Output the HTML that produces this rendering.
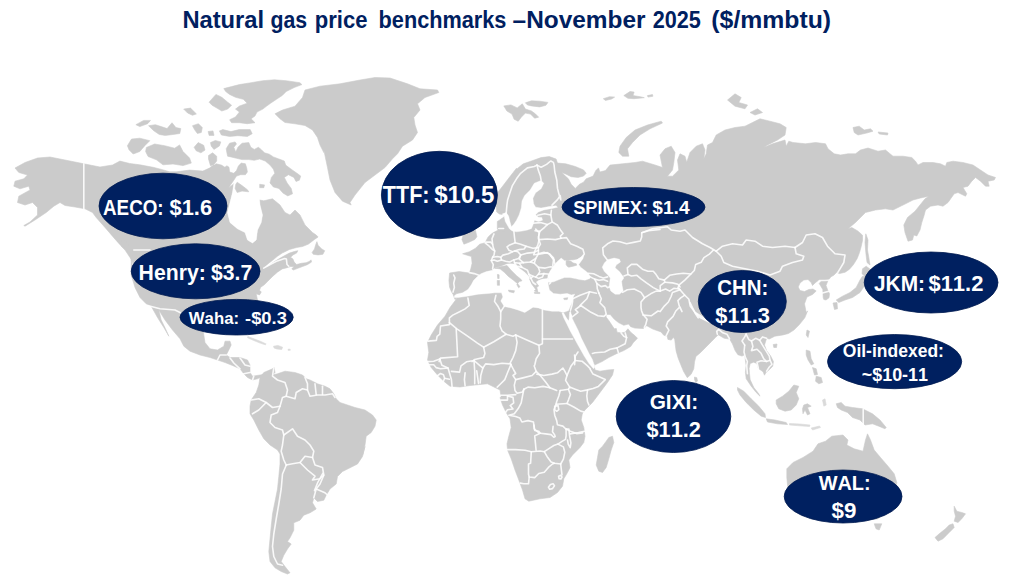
<!DOCTYPE html>
<html><head><meta charset="utf-8"><title>Natural gas price benchmarks</title>
<style>
html,body{margin:0;padding:0;background:#fff;}
body{width:1024px;height:585px;overflow:hidden;font-family:"Liberation Sans",sans-serif;}
svg{display:block;}
text{font-family:"Liberation Sans",sans-serif;font-weight:bold;font-kerning:none;}
</style></head><body>
<svg width="1024" height="585" viewBox="0 0 1024 585">
<rect width="1024" height="585" fill="#fff"/>
<text x="182.41" y="28.2" font-size="23.3" textLength="81.66" lengthAdjust="spacingAndGlyphs" fill="#002060">Natural</text><text x="270.43" y="28.2" font-size="23.3" textLength="36.64" lengthAdjust="spacingAndGlyphs" fill="#002060">gas</text><text x="314.75" y="28.2" font-size="23.3" textLength="52.71" lengthAdjust="spacingAndGlyphs" fill="#002060">price</text><text x="378.57" y="28.2" font-size="23.3" textLength="127.82" lengthAdjust="spacingAndGlyphs" fill="#002060">benchmarks</text><text x="512.56" y="28.2" font-size="23.3" textLength="133.01" lengthAdjust="spacingAndGlyphs" fill="#002060">–November</text><text x="652.75" y="28.2" font-size="23.3" textLength="48.15" lengthAdjust="spacingAndGlyphs" fill="#002060">2025</text><text x="711.37" y="28.2" font-size="23.3" textLength="119.77" lengthAdjust="spacingAndGlyphs" fill="#002060">($/mmbtu)</text>
<defs><filter id="soft" x="-2%" y="-2%" width="104%" height="104%"><feGaussianBlur stdDeviation="0.45"/></filter></defs>
<g filter="url(#soft)">
<g fill="#cbcbcb" stroke="#cbcbcb" stroke-width="0.6" stroke-linejoin="round">
<path d="M15,168 25,162.5 37.5,158 50,157 65,160 83.8,163.8 100,167 112.5,165 119.9,161.1 129.8,163.5 139.8,164.8 153.1,167.3 161.4,169.4 169.7,171.8 176.3,171.8 189.6,170.1 202.9,171.1 209.5,168.1 213.7,164.8 218.7,167.3 210.5,170.6 212.6,166.5 216,163.8 221.4,165.1 224.9,167.2 226.9,165.8 229,167.2 229.6,172 233.8,173.3 236.5,170.6 238.5,165.8 241.3,163.1 245.4,163.8 246.7,167.9 247.4,172 245.4,174.7 240.6,174.7 236.5,176.1 233.8,180.2 231,184.3 228.3,188.4 224.9,191.1 233.8,183.8 232.5,192.5 230,202.5 227.5,212.5 230,222.5 237.5,228.8 245,232.5 247.5,240 252.5,243 256.2,240 257.5,230 261.2,222.5 262.5,215 260,205 259.5,200 263.8,200.8 272.5,198.8 280,205 285,212.5 290,215 295,210 300,215 305,225 312.5,232.5 316.2,235 318.1,237 314.5,239.4 308.5,244.1 302.5,246.5 296.6,247.5 289.4,249.5 282.2,253.1 277.4,256.3 272.6,260.3 267.8,263.9 263.7,268.1 267.8,266.3 273.8,262.1 278.6,259.1 283.4,256.3 289.4,253.1 294.2,251.6 297.8,250.7 296.6,253.1 293,254.9 290.6,257.3 293,259.1 294.2,262.1 296.6,264.5 301.3,263.3 306.1,262.7 309.1,261.5 311.1,259.9 311.5,262.1 307.3,264.7 302.5,266.5 297.8,268.3 293.2,270.1 291.8,268.7 294.2,266.5 290.6,266.5 287,267.7 282.2,268.9 277.4,272.2 272.6,276.4 267.8,281.2 264.3,284.8 260.7,287.2 259.5,290.2 261.3,292 259.5,294.9 256.2,293.8 257.5,300 261.2,308.8 263.8,317.5 265,325 263.8,331.2 261.2,332.5 257.5,325 253.8,316.2 250,308.8 242.5,306.2 235,306.2 227.5,308.8 220,307.5 212.5,308.8 207.5,312.5 203.8,320 203,327.5 203.8,335 205,342.5 210,348.8 217.5,350 223.8,346.2 225,341.2 230,341.2 231.2,345 228.8,350 226.2,355 230,357.5 240,357.5 247.5,360 250,365 250,372.5 252.5,376.2 260,375 267.5,373.8 272.5,375 275,378.8 272.5,382.5 270,381.2 267.5,377.5 262.5,376.2 257.5,378.8 252.5,380 247.5,377.5 243.8,373.8 240,368.8 232.5,365.5 225,362.5 217.5,360 210,357.5 200,355 190,351.2 183.8,346.2 180,338.8 172.5,330 165,320 158.8,310 161.2,320 165.5,328.8 168.8,336.2 167.5,333.8 163.8,327.5 157.5,317.5 151.2,306.2 146.2,303.8 140,297.5 135,287.5 131.2,275 131.2,260 135,275 133.8,265 130,257.5 125,250 120,245 112.5,236.2 105,227.5 96.2,217.5 92.5,212.5 85,208.8 75,207 65,205.5 60,202.5 53.8,206.2 46.2,212.5 35,220 25,226.2 23.8,225.5 30,222 37.5,215 37.5,207.5 32.5,202.5 25,205 17.5,202.5 18.8,196.2 30,190 28.8,186.2 20,188.8 13.8,186.2 15,181.2 23.8,178.8 27.5,175 18.8,172.5Z"/>
<path d="M226.9,152.8 226.2,148.7 229.6,143.2 235.1,141.9 236.5,143.9 233.8,147.3 235.8,152.1 237.9,147.3 242,143.2 248.8,142.6 250.8,147.3 254.3,149.4 258.4,147.3 261.1,149.4 264.5,152.8 269.3,154.2 273.4,156.9 278.9,159 284.3,161 285.7,165.1 291.2,169.2 298,174 300.7,176.1 299.4,180.2 296,181.5 293.9,177.4 288.4,174.7 284.3,177.4 287.1,182.9 291.2,188.4 292.5,193.8 287.8,195.9 283,193.1 278.9,188.4 273.4,187 270,182.9 271.4,177.4 274.8,173.3 273.4,169.2 270,165.1 265.2,161 259.7,159 254.3,160.3 248.8,159.6 242,159.6 236.5,158.3 231,156.9 227.6,156.2Z"/>
<path d="M219.4,130.9 222.8,129.6 231,131.6 239.2,129.6 250.2,129.6 252.2,133.7 247.4,136.4 237.9,135.7 229.6,136.4 221.4,135Z"/>
<path d="M210.5,142.6 215.3,140.5 220.8,141.9 219.4,146 213.9,149.4 211.2,146Z"/>
<path d="M194.1,147.3 198.2,142.6 203.7,145.3 205,150.1 200.9,152.8 196.2,150.8Z"/>
<path d="M208.5,155.5 212.6,152.8 216.7,156.2 216.7,161 213.9,164.4 210.5,165.8 208.5,159Z"/>
<path d="M127.4,145.7 131.5,139.1 139.8,138.2 149.8,140.7 144.8,145.7 139.8,151.5 133.2,154 129,149.8Z"/>
<path d="M146.4,147.4 154.7,144 164.7,145.7 174.7,148.2 179.6,144.9 183,151.5 189.6,158.1 191.3,163.1 183,165.6 173,164 163,164.8 156.4,159.8 148.1,156.5 145.6,151.5Z"/>
<path d="M275,113.8 282.5,110 295,106.2 302.5,97.5 305,90 320,86.2 340,83.8 360,80 375,77.5 390,78 407.5,83.8 420,88.8 437.5,90 438.8,92.5 425,97.5 417.5,103.8 420,110 413.8,117.5 415,125 417.5,132.5 412.5,140 402.5,146.2 397.5,153.8 392.5,158.8 385,167.5 375,175 365,182.5 355,195 350,202.5 351.2,205 342.5,201.2 335,192.5 330,180 327.5,167.5 323.8,150 323.8,152.5 320,145 317.5,137.5 312.5,130 305,125.5 295,123.8 285,122.5 280,118.8Z"/>
<path d="M260,377.5 263.8,372.5 272.5,368.8 274,367 275,372.5 272.5,375 277.5,373.8 285,371.2 295,372.5 302.5,375 306.2,378.8 310,380 317.5,383.8 325,386.2 330,388.8 333.8,393.8 336.2,398.8 340,402.5 347.5,405 355,407.5 365,410 372.5,415 376.2,420 375,426.2 371.2,432.5 366.2,436.2 365,445 362.5,455 365,446.5 362.5,456.5 357.5,464 350,467.8 342.5,471.5 337.5,476.5 336.2,484 330,489 326.2,495.2 323.8,500.2 317.5,501.5 313.8,497.8 312.5,502.8 316.2,509 310,512.8 303.8,515.2 300,520.2 293.8,522.8 293.8,530.2 290,537.8 287.5,541.5 291.2,544 287.5,549 283.8,555.2 281.2,561.5 285,566.5 290,572.8 287.5,574 281.2,571.5 275,567.8 270,561.5 268.8,551.5 270,539 271.2,526.5 272.5,514 275,501.5 277.5,489 278.8,476.5 280,464 280,454 277.5,450 270,445 263.8,438.8 258.8,430 253.8,420 250,413.8 250,406.2 251.2,400 256.2,392.5 258.8,385Z"/>
<path d="M455,299.6 453,294.2 451.6,292.1 449.6,287.3 448.9,280.5 449.6,273 459.1,271.6 469.4,273 470.8,268.8 472.1,263.3 471.4,256.5 462.6,253.8 469.4,251.7 475.5,248.3 479.6,244.2 485.1,242.8 487.9,237.3 490.6,234.6 493.3,232.6 497.4,230.5 498.8,227.8 500.2,219.6 504.3,216.8 504.2,214.7 499.4,214 496.7,212 496,205.1 496.3,198.3 498,192.1 502.8,186 509.6,177.1 516.5,168.2 516.5,169.2 523.3,163.8 531.5,161 541.1,157.6 549.3,156.6 556.1,159 557.5,163.1 565.7,163.8 575.3,166.5 583.5,169.9 586.2,173.3 583.5,176.1 578,177.4 571.2,176.7 565.7,174 561.6,172.6 568.4,178.8 571.2,184.3 575.3,188.4 579.4,184.3 583.5,182.2 586.2,178.8 593.1,176.1 595.8,170.6 598.5,167.9 599.9,172 605.4,170.6 610,165.1 622.5,163.8 635,162.5 642.5,161.2 655,165 662.5,167.5 660,155 665,148.8 671.2,146.2 675,152.5 673.8,162.5 672.5,170 667.5,176.2 672.5,176.2 678.8,170 677.5,160 680,153.8 685,156.2 687.5,165 690,170 686.2,163.8 690,152.5 696.2,146.2 702.5,143.8 705,150 703.8,158.8 706.2,153.8 707.5,145 712.5,142.5 716.2,135 725,130 735,127.5 745,126.2 752.5,122.5 760,118.8 770,121.2 780,123.8 786.2,127.5 785,135 777.5,140 767.5,145 763.8,147.5 772.5,143.8 785,140 786.2,146.2 788.8,141.2 793,142.5 805.5,143.8 815.5,142.5 825.5,143.8 828,148.8 834.2,153.8 840.5,155 848,153.8 855.5,153.8 860.5,150 868,148 878,151.2 885.5,150 893,156.2 903,156.2 911.8,157.5 915.5,161.2 918,165 923,162.5 933,162.5 940.5,163.8 945.5,166.2 946.8,162.5 953,161.2 963,162.5 973,165 980.5,170 988,175 995.5,177.5 994.2,180 988,181.2 989.2,186.2 985.5,186.2 980.5,181.2 975.5,177.5 971.8,181.2 968,186.2 963,187.5 966.8,193.8 965.5,196.2 958,192.5 954.2,193.8 948,202.5 943,206.2 938,205 930.5,206.2 925.5,210 924.2,215 921.8,222.5 920,230 916.8,236 913.8,235 912.5,240 908,241.2 905,232.5 903.8,225 907.5,217.5 915,211.2 920,205 925,198.8 928.8,196.2 920.5,198 913,200 905.5,203.8 898,207.5 893,210 885.5,208.8 875.5,210 865.5,212.5 855.5,222.5 848,228.8 848,228.8 851.8,227.5 857.8,231 862.5,235.2 862.5,240.5 861.2,246.5 859.5,252.5 857.2,258.5 853.5,264.5 849.5,269.2 845.2,272.2 839.8,273.5 836.2,272.8 833.8,275.2 831,276.8 828,280.5 826,285.5 827.5,289.5 829.5,293.8 829,297.8 826,300 823.8,299.5 823.2,297.8 822.8,289.5 819.2,283.5 821.8,280.5 818.8,280 815,283 812.5,285.5 811.2,282.5 808,279.5 803.8,280 800,283 798.2,287 800,290.5 804.5,291.5 808.8,289.5 813,289 816.2,291 812.5,294.5 807,297 804.5,303.8 806.2,312.5 807.6,310.9 804.8,317.8 799.4,324.6 793.9,330.1 788.4,333.5 783,334.9 774.8,336.2 769.3,339 766.6,338.3 764.5,345.1 766.6,350.6 770.7,356.1 773.4,361.5 772.7,366.3 769.3,369.7 765.9,372.5 764.5,375.2 763.1,371.8 758.4,368.4 757,363.6 753.6,362.2 750.2,363.6 749.1,368.4 749.5,373.8 750.2,379.8 753.8,387.5 758.8,393.8 760,396.2 756.2,392.5 751.2,386.2 746.2,378.8 745.4,372.5 746.1,365.6 745.4,360.2 744.7,354.7 742,356.1 737.9,354.7 735.1,350.6 732.4,343.8 729.6,339 724.2,338.3 717.3,334.2 717.8,335.3 715.7,337.3 711.6,341.4 706.1,346.9 700.7,352.4 695.9,356.5 694.5,362 693.8,368.8 691.1,374.3 687.3,377.7 683.6,371.5 680.8,364.7 678.1,357.9 676.1,351 675.4,345.5 674.7,339.4 673.3,337.3 671.3,340.1 667.9,339.4 667.2,336 663.8,335.3 661,331.9 652.8,329.1 646.7,325.7 646,326.4 643.2,328.5 634.8,328.1 630.7,326.7 628.6,324 623.8,325.3 618.4,322.6 614.3,319.2 610.2,314.4 606.1,314.4 606.1,317.1 608.8,320.5 611.5,324.6 614.3,328.8 616.3,328.5 617,332.2 621.1,332.9 625.2,332.2 627.9,328.8 630.7,332.2 634.8,335.6 637.5,338.3 633.4,342.4 630.7,346.5 623.8,350.6 617,353.4 608.8,357.5 602,361.6 595.1,364.8 593.8,363.8 594.5,367.5 595,370 600,371.2 607.5,370 613.8,369.5 612.5,375 607.5,382.5 600,392.5 592.5,402.5 585,410 580,416 592.5,397.5 587.5,405 582.5,412.5 581.2,420 583.8,427.5 585,436.2 583.8,442.5 580,447.5 572.5,455 568.8,460 570,467.5 567.5,472.5 563.8,478.8 562.5,486.2 557.5,492.5 550,497.5 540,498.8 528.8,501.2 525,498.8 522.5,490 518.8,480 515,470 511.2,458.8 507.5,450 507,443.8 508.8,436.2 511.2,427.5 510,418.8 506.2,412.5 502.5,405 500,397.5 501.2,397.5 500,390 495,387.5 487.5,383.8 480,384.5 470,385.5 460,387 450,386.2 443.8,381.2 437.5,375 431.2,367.5 427.5,360 428.8,352.5 427.5,342.5 431.2,335 437.5,325 445,316.2 450,307.5 457.5,297.5Z"/>
<path d="M223.8,88.6 231.6,86.6 239.4,84.6 251.1,82.7 262.8,80.7 274.5,79.8 286.2,80.7 299.9,82.7 301.9,84.6 294.1,87.6 286.2,91.5 282.3,95.4 276.5,99.3 270.6,103.2 266.7,106.1 262.8,109.1 257,112 255,115.9 251.1,118.8 255,122.7 247.2,123.7 239.4,122.7 231.6,122.7 229.6,119.8 235.5,116.9 239.4,112 235.5,109.1 239.4,106.1 247.2,103.2 243.3,99.3 235.5,97.3 229.6,94.4 225.7,91.5Z"/>
<path d="M209.1,102.2 215.9,94.4 221.8,97.3 227.7,102.2 231.6,105.2 227.7,109.1 221.8,111 216.9,108.1 212,105.2Z"/>
<path d="M148.6,125.7 155.4,124.7 161.2,126.6 167.1,128.6 172,122.7 175.9,127.6 180.8,128.6 179.8,133.5 173,134.5 165.2,135.4 159.3,134.5 153.4,130.5Z"/>
<path d="M135.9,124.7 143.7,120.4 150.5,120.4 147.6,123.7 139.8,126.6Z"/>
<path d="M183.7,109.1 190.5,108.1 196.4,113.9 192.5,115.3 187.6,113Z"/>
<path d="M192.5,125.7 198.4,123.7 202.3,127.6 201.3,132.5 197.4,133.5 194.5,129.6Z"/>
<path d="M208.1,131.5 213,130.9 214,135.4 209.1,135.4Z"/>
</g>
<g fill="#fff" stroke="#fff" stroke-width="0.4" stroke-linejoin="round">
<path d="M454.4,295.8 456.4,294.2 462.6,292.8 468,289.4 471.4,284.6 473.5,280.5 476.9,277.1 481,273.7 486.5,271.6 492.6,270.3 494.7,268.2 500.2,266.8 507,264.1 510.4,263.8 514.5,264.1 519.3,268.2 524.8,272.3 528.9,276.4 530.2,280.5 531.6,283.9 535.7,282.6 538.4,280.5 542.5,279.1 548,278.5 549.4,279.8 548,283.2 549.4,290.1 553.5,293.5 560.3,294.2 567.2,293.5 571.3,294.9 574.7,294.2 573.3,296.9 571.9,302.4 569.9,307.2 568.5,310.6 563.1,312.6 558.9,311.3 552.1,311.3 543.9,309.9 538.4,307.9 533,307.2 528.9,309.9 524.8,312.6 517.9,309.9 511.1,307.9 504.3,306.5 500.8,301 502.9,296.9 501.5,292.8 494.7,292.8 487.9,293.5 478.3,294.2 467.3,296.2 457.8,297.6 454.4,297.6Z"/>
<path d="M562,313 563.7,317.8 567.1,324.6 570.5,331.5 573.9,337.6 577.3,343.8 580.8,349.9 584.2,356.1 589,363.6 593.5,368.7 594.8,367 592.4,359.5 589,353.4 584.9,345.2 581.4,338.3 578,330.1 574.6,323.3 571.9,317.8 570.5,311 569.6,312.3 569.1,319.2 568.5,320.8 566.4,317.8 563.7,313Z"/>
<path d="M548.9,279.1 547.8,275.9 549.9,271.6 553.2,266.2 556.9,261.9 561.2,258.1 564.5,260.8 567.7,260.6 573.1,260.2 577.4,259.5 581.7,257 583.9,254.8 583,258.6 580.6,261.9 578.7,264.5 580.6,267.2 585,270.5 588.2,273.2 590.3,276.4 589.8,278.6 585,280.2 579.6,279.6 575.3,278.6 569.9,277.5 564.5,277.5 559.1,279.6 553.7,281.8 549.4,282.3 547.8,281.2Z"/>
<path d="M607.6,259.7 614.1,258.1 619.4,259.2 620.5,261.9 616.2,265.1 615.1,267.8 619.4,271.6 622.7,275.9 623.8,278 621.6,281.2 622.1,285.6 623.2,290.9 619.4,294.2 615.1,294.2 610.8,290.9 609.2,286.6 609.7,282.3 610.3,278 607.6,274.8 604.4,271.6 602.2,267.2 604.4,262.9Z"/>
<path d="M541.1,180.5 543.8,183.2 541.1,188.7 535.6,192.8 532.9,198.3 533.6,203.8 535.6,207.2 541.1,208.1 549.3,206.5 556.1,205.8 557.5,207.2 552,208.5 543.8,209.9 538.4,212 535.6,214.7 538.4,217.2 541.8,217.4 542.5,220.2 538.4,221.5 534.5,220.2 533.2,224.3 531.5,228.4 527.4,230 522,231.1 516.5,231.8 512.4,231.1 509.6,229 507.6,225.6 505.3,221.5 504.2,216.1 502.1,214 506.2,212.6 508.6,216.1 509.9,221.5 511.4,226.7 513.8,224.3 516.5,220.2 519.2,214.7 521.3,207.9 522,201 524.7,195.5 530.2,190.1 534.3,183.2Z"/>
<path d="M233.8,183.8 245,185.5 255,192.5 259.5,200 260,205 262.5,215 261.2,222.5 257.5,230 256.2,240 252.5,243 247.5,240 245,232.5 237.5,228.8 230,222.5 227.5,212.5 230,202.5 232.5,192.5Z"/>
</g>
<g fill="#cbcbcb" stroke="#cbcbcb" stroke-width="0.6" stroke-linejoin="round">
<path d="M235.8,184.3 237.2,182.2 242,185.6 247.4,189.7 248.8,191.8 242,191.1 237.2,192.5 235.1,188.4Z"/>
<path d="M259.7,184.3 264.5,184.9 263.8,187.7 259.7,187.7Z"/>
<path d="M494.7,268.2 500.2,268.9 504.3,272.3 508.4,276.4 513.8,280.5 517.9,283.9 520,286.7 518.6,287.8 516.8,284.6 519.3,281.6 522,280.8 520.7,279.1 516.6,275.7 511.1,270.3 507,265.5 500.2,266.8Z"/>
<path d="M529.6,279.1 535.7,281.9 538.7,286 536.8,287.3 537.9,292.3 534.3,290.9 535.7,289.4 531.9,284.3Z"/>
<path d="M508.4,290.1 514.5,290.8 513.8,292.8 509,291.7Z"/>
<path d="M497.2,280.5 499.5,280.5 499.5,285.3 497.4,285.3Z"/>
<path d="M497.4,274.4 499.1,274.8 499.1,278.5 497.7,278.5Z"/>
<path d="M534.3,292.3 539.8,292.5 539.8,293.6 534.6,293.4Z"/>
<path d="M563.7,298.3 567.8,297.7 567.2,299.6 564.1,299.6Z"/>
<path d="M461.9,239.4 464.6,230.5 471.4,226.4 475.5,230.5 476.9,236.7 474.9,239.4 469.4,242.1 463.9,244.2Z"/>
<path d="M497.3,221.5 499.4,220.2 503.5,220.8 504.2,225.6 505.8,228.4 509,229.7 506.9,231.8 502.8,231.1 499.4,231.1 497.3,228.4Z"/>
<path d="M608.8,437.5 612.5,436.2 613.8,442.5 611.2,450 608.8,458.8 606.2,467.5 602.5,472.5 598.8,471.2 596.2,465 597.5,457.5 598.8,450 602.5,446.2 606.2,441.2Z"/>
<path d="M694.5,377 696.8,377.7 697.5,381.1 695.9,382.5 694.5,379.7Z"/>
<path d="M865.8,233.8 868,240 867.5,250 868.8,257.5 870,265 867,262.5 865.8,252.5 865,242.5Z"/>
<path d="M862.5,268.8 866.2,266.2 871.2,270 868.8,273.8 865,276.2 862,273.8Z"/>
<path d="M866.2,276.2 865,285 860,292.5 852.5,297.5 845,300 838.8,302.5 836.2,300 842.5,296.2 850,292.5 856.2,287.5 860,280 862.5,276.2Z"/>
<path d="M833,303 837,302.5 837.5,308.8 834.5,309.5Z"/>
<path d="M807,330 809.5,331.2 808,337.5 806.2,335Z"/>
<path d="M773.2,344.5 777,344 776.5,347.5 773.8,347.5Z"/>
<path d="M737.5,387.5 743.8,391.2 751.2,398.8 758.8,406.2 765,413.8 765.5,417.5 761.2,416.2 753.8,410 746.2,402.5 740,395 737.5,390Z"/>
<path d="M766.2,418.8 775,420 786.2,422.5 787.5,424.5 777.5,423.8 767.5,422Z"/>
<path d="M776.2,400 782.5,396.2 788.8,391.2 793.8,385 798.8,386.2 796.2,392.5 798.8,398.8 796.2,405 791.2,410 785,411.2 778.8,408.8 776.2,403.8Z"/>
<path d="M803.8,405 807.5,403.8 811.2,406.2 807.5,407.5 810,413.8 807.5,415 805,410 803,413.8 802.5,408.8Z"/>
<path d="M806.2,350 810,351.2 811.2,358.8 813.8,363.8 811.2,365 808,360 806.2,355Z"/>
<path d="M816.2,376.2 821.2,377.5 822.5,382.5 818.8,383.8 815.5,381.2Z"/>
<path d="M812.5,367.5 816.2,368.8 817.5,374.5 814.5,375Z"/>
<path d="M836.2,403.8 841.2,402.5 845,406.2 852.5,407.5 862.5,408.8 872.5,413.8 880,420 886.2,427.5 885,428.8 878.8,426.2 872.5,423.8 865,425 860,420 852.5,417.5 847.5,412.5 841.2,410 837.5,407.5Z"/>
<path d="M786.8,468.8 793,462.5 803,457.5 813,451.2 818,443.8 825.5,441.2 831.8,436.2 843,435 848,440 846.8,445 854.2,448.8 863,451.2 865.5,440 867.5,433.8 870.5,440 874.2,450 880.5,457.5 888,466.2 894.2,473.8 896.8,482.5 895.5,492.5 891.8,502.5 885.5,512.5 878,518.8 868,520 860.5,516.2 853,512.5 843,507.5 830.5,505 818,507.5 805.5,511.2 795.5,510 789.2,502.5 788,490 786.8,477.5Z"/>
<path d="M874.2,523.8 881.8,523.8 879.2,530 876,528.8Z"/>
<path d="M954.2,506.2 956.8,511.2 961.8,512.5 965.5,513.8 961.8,518.8 958,522.5 954.2,521.2 955.5,516.2 954.2,511.2Z"/>
<path d="M953,523.8 954.2,527.5 949.2,532.5 943,538.8 938,541.2 935,537.5 939.2,533.8 945.5,528.8 949.2,525Z"/>
<path d="M247.8,336.6 254.6,339 261.4,341.7 266.2,344 265.3,344.8 260.1,343.1 253.2,340.3 247.5,337.7Z" fill="#dadada" stroke="#dadada"/>
<path d="M273.5,346.2 277.9,345.4 282.6,347.2 281.7,349.5 276.5,348.9 274,347.9Z" fill="#dadada" stroke="#dadada"/>
<path d="M288.1,349.2 290.2,349.2 290.2,350.3 288.1,350.3Z" fill="#dadada" stroke="#dadada"/>
<path d="M618.8,152.5 620,146.2 626.2,137.5 635,130 647.5,125 661.2,121.2 662.5,123 650,128.8 640,135 632.5,142.5 627.5,148.8 628.8,156.2 622.5,156.2Z"/>
<path d="M727.5,100 735,93.8 741.2,97.5 738.8,102.5 747.5,105 745,108.8 735,106.2Z"/>
<path d="M750,112.5 757.5,108.8 762.5,112.5 755,115Z"/>
<path d="M853,127.5 859.2,126.2 864.2,130 870.5,128.8 873,131.2 866.8,133 858,135 854.2,132.5Z"/>
<path d="M878,132 888,133 887.5,135 879.2,134Z"/>
<path d="M316.9,241.7 318.1,245.3 321.7,248.9 324.7,250.7 322.9,254.3 318.1,254.9 313.3,254.3 312.1,252.5 314.5,248.9 315.7,244.7Z"/>
<path d="M503.8,105.9 511,104.9 517.2,107.9 522.3,103.8 525.4,109 531.5,111 535.6,114.1 538.7,117.2 534.6,118.2 530.5,114.1 525.4,113.1 521.3,117.2 518.2,121.3 514.1,119.2 512,114.1 506.9,111Z"/>
<path d="M525.4,102.8 531.5,100.8 539.7,101.2 547.9,102.4 545.9,105.3 539.7,106.9 531.5,105.9 527.4,104.9Z"/>
<path d="M603.3,98.7 609.5,96.7 614.6,97.1 611.5,99.1 605.4,100.4Z"/>
<path d="M623.8,95.6 630,91.5 634.1,92.1 633,95.6 640.2,96.7 644.3,97.7 634.1,98.7 627.9,98.3Z"/>
<path d="M647.4,95.6 652.5,94.6 652.9,96.3 648,97.1Z"/>
<path d="M120.2,237.3 126.2,241.6 132.1,250.6 134.5,255.9 129.5,253.9 123.5,245.9Z"/>
<path d="M566.1,260.8 567.7,260.2 570.9,261.3 573.1,262.9 576.3,263.8 576.6,265.3 573.1,266.2 568.8,267.2 567.2,266.2 566.1,264.5Z"/>
<path d="M789.5,423.5 800,424 810,425 809.5,426.5 799.5,425.8 789.5,425Z" fill="#dadada" stroke="#dadada"/>
<path d="M811.2,428 819.5,426 820.5,427.5 812.5,430Z" fill="#dadada" stroke="#dadada"/>
<path d="M822.5,400 825,398.8 826.2,405 823.8,406.2Z" fill="#dadada" stroke="#dadada"/>
</g>
<g fill="none" stroke="#fff" stroke-opacity="0.88" stroke-width="1.6" stroke-linejoin="round" stroke-linecap="round">
<path d="M467.9,298 469.2,305.5 465.1,308.9 459.6,311.7 452.8,315.1 449.4,317.8 449.4,324.6 440.5,326 439.8,334.2 437.1,336.3 436.4,340.4 428.2,341.1"/>
<path d="M449.4,322.6 456.9,328.8 467.9,336.3 477.4,343.1 483.6,347.2 493.8,341.7 506.1,334.2"/>
<path d="M456.2,328.8 456.9,342.4 457.6,356.8 440.5,358.1 439.1,361.6"/>
<path d="M495.9,295.3 494.5,301.4 497.9,306.2 500.7,311.7 503.4,307.6 504.8,305.5"/>
<path d="M500.7,311.7 500.7,319.2 500,326 502,330.8 506.1,334.2 513,336.3 515.7,334.9 528,340.4 538.9,345.2 542.4,343.8 542.4,309.6"/>
<path d="M542.4,339 572.6,339"/>
<path d="M515.7,334.9 517.1,342.4 515.7,350.6 513,357.5 510.2,362.9 510.5,363.2 510.9,364.6"/>
<path d="M483.6,347.2 484.9,353.4 483.6,357.5 474.7,359.5 472,361.6 474,360.5 466.5,361.8 461,365.9 459.6,372.1 451.4,371.4"/>
<path d="M538.9,345.2 539.6,353.4 536.2,358.8 534.8,364.8 534.2,365.9 536.2,371.4"/>
<path d="M439.8,359.1 441.9,365.3 448,368 449.4,372.8 451.4,379.6 452.1,387.1"/>
<path d="M465.1,372.8 464.4,379.6 465.1,385.8"/>
<path d="M474,360.5 474.7,370.7 474.7,383.7"/>
<path d="M476.7,370.7 478.5,383.4"/>
<path d="M474,360.5 480.2,365.9 482.9,368 480.8,375.5 480.2,383"/>
<path d="M482.9,368 485.6,363.9 493.8,364.6 502,363.2 510.2,363.9"/>
<path d="M510.9,364.6 507.5,372.8 504.8,379.6 500.7,383.7 497.2,387.1"/>
<path d="M510.9,364.6 513.7,370 515.7,373.5 513,375.5 515.7,379.6 514.3,385.1 515,390.5 517.1,393.3 522.5,391.9 523.9,389.2"/>
<path d="M500.7,395.3 507.5,395.3 515.7,394.6"/>
<path d="M500.7,400.1 507.5,400.1 507.5,396"/>
<path d="M507.5,396 513,397.4 513.7,402.9 510.2,405.6 513,409 507.5,409.7 505.5,412.4"/>
<path d="M515.7,379.6 523.9,377.6 532.1,375.5 536.2,371.4 540.3,375.5 545.8,382.3 549.9,387.8"/>
<path d="M523.9,389.2 528,387.1 534.8,387.8 543.1,386.4 549.9,387.8 556.7,390.5"/>
<path d="M523.9,389.2 522.5,396 521.2,402.9 518.4,408.3 514.3,413.8 508.9,415.2 515.7,416.5 519.8,417.9 521.9,422 528,420.6 533.5,422 534.2,428.8 538.9,432.9"/>
<path d="M536.9,374.1 543.8,375.5 552,374.1 557.4,372.8 562.9,368 564.9,371.4 567,375.5"/>
<path d="M574.5,355 575.2,360.5 571.1,365.9 567,375.5 565.6,380.3 569.7,387.1"/>
<path d="M575.2,360.5 582,361.2 587.5,365.9 590.2,368.7"/>
<path d="M590.2,369.4 593,374.1 605.3,379.6 598.4,386.4 593,388.5 587.5,389.9 580.7,391.2 575.2,389.2 569.7,387.1 568.4,389.2 560.2,390.5"/>
<path d="M587.5,389.9 586.8,396 587.5,401.5 588.9,404.9"/>
<path d="M568.4,389.2 570.4,394.6 568.4,400.1 567,403.5 573.8,407 580.7,411.1 583.4,411.7"/>
<path d="M560.2,390.5 558.8,396 556.7,401.5 556.1,404.2 567,403.5"/>
<path d="M556.1,404.2 554,409.7 554.7,415.2 556.7,420.6 557.4,424.7 562.9,426.1 565.6,428.8 571.1,431.6 576.6,433.6 582.7,432.9"/>
<path d="M534,425 534.7,430.5 538.8,431.2 540.2,433.2 534.7,435.9 535.4,442.8 536.1,450.3"/>
<path d="M506.7,449.6 515.5,449.6 525.1,450.3 531.3,451.7 540.2,451 544.3,451.7 549.7,448.2 553.8,445.5 557.9,444.1 562,441.4 565.5,439.4 566.1,435.9 566.1,429.1"/>
<path d="M540.2,433.2 545.6,433.9 551.1,434.6 553.8,437.3 555.2,436.6 554.5,434.6 552.5,431.8 553.1,426.4"/>
<path d="M566.1,429.1 568.9,429.1 569.6,435.9 570.9,442.8 570.2,447.6 568.2,444.1 567.5,440"/>
<path d="M570.2,433.9 578.4,432.5 584.6,431.2"/>
<path d="M531.3,451.7 530.6,463.3 528.5,464 528.5,474.2 529.2,477 534.7,477.6 538.8,473.5 544.3,472.2 548.4,467.4 552.5,464 554.5,463.3"/>
<path d="M544.3,451.7 547,456.4 551.1,461.9 554.5,463.3 560.7,464 563.4,459.2 564.8,452.3 563.4,446.9 557.9,444.1"/>
<path d="M560.7,464 561.4,470.1 562,474.9"/>
<path d="M529.2,477 528.5,483.8 523.8,483.8 520.3,483.1"/>
<path d="M558.6,476.3 560.7,475.3 562,477 560.9,479 559,478.6 558.6,476.3"/>
<path d="M548.4,487.2 550.4,484.5 553.1,483.8 554.5,485.8 552.5,488.6 549.7,489.3 548.4,487.2"/>
<path d="M554.7,406.3 558.1,405.6 558.8,409.7 556.7,411.3 554.7,409.7 554.7,406.3"/>
<path d="M572.6,298.7 580.1,295.3 589.6,291.8 596.5,293.2"/>
<path d="M589.6,291.8 586.9,298.7 581.4,304.1 580.1,305.5"/>
<path d="M570.5,314.4 571.9,317.1 578,312.3 575.3,309.6 580.8,305.5 591,312.3 597.9,315.8 604,316.4 606.1,314.4"/>
<path d="M598.9,293.1 601.3,298.7 599.9,302.8 604.7,307.6 606.1,313.7"/>
<path d="M592.4,353.4 595.1,352.7 604.7,352 610.2,349.3 617,347.9 618.4,352.7"/>
<path d="M617,347.9 625.2,343.8 626.6,337.6 625.2,332.9"/>
<path d="M621.1,332.9 623.8,336.3 626.6,337.6"/>
<path d="M570.5,310.3 571.9,305.5 572.6,301.4 572.6,298.7"/>
<path d="M578,352 575.3,356.1 574.6,364.8"/>
<path d="M641.8,232.8 652.5,228.8 667.5,226.8 671.2,230 680,231.2 685,230 692.5,237.5 702.5,243.8 710,247.5 716.2,251.2"/>
<path d="M716.2,251.2 722.5,246.2 732.5,243.8 742.5,245 746.2,240 755,241.2 762.5,246.2 772.5,247.5 785,246.2 795,247.5"/>
<path d="M716.2,251.2 721.2,256.2 723.8,262.5 732.5,266.2 745,268.8 757.5,271.2 770,275 780,271.2 782.5,266.2 792.5,262.5 802.5,260 803.8,256.2 796.2,253.8 795,247.5"/>
<path d="M795,247.5 802.5,242.5 806.2,235 815,233.8 822.5,237.5 827.5,246.2 835,253.8 845,255 843.8,262.5 840,268.8 836.2,275 833.8,278 832,280 825,280.5 819.5,280.5"/>
<path d="M822.5,293 828.8,291.2"/>
<path d="M453.7,275 455,277.8 453.7,283.2 454.4,287.3 453,292.1"/>
<path d="M469.4,272.6 474.2,273.6 479.6,275.6"/>
<path d="M485.1,242.8 489.2,246.2 492.6,249.6 494.7,251 494,255.1 492.6,257.2 491.3,260.6 493.3,264.7 492.6,268.8 494,270.8"/>
<path d="M485.8,242.1 490.6,242.1 492.6,244.2 492,238.7 494,233.9"/>
<path d="M492.6,244.2 493.3,247.6 494.7,251"/>
<path d="M492.6,257.2 497.4,256.5 500.8,257.2 501.5,259.9 497.4,261.3 494,259.9 491.3,260.6"/>
<path d="M498.8,228.5 503.6,228.5"/>
<path d="M513.8,230.5 514.5,237.3 515.2,242.8 509.7,244.9 507,246.9 509,250.3 512.5,251.7 508.4,253.8 502.9,255.1 500.8,257.2"/>
<path d="M515.2,242.8 520.7,244.2 526.1,246.2 524.1,249 519.3,249.6 514.5,251 512.5,251.7"/>
<path d="M535.7,229.1 539.1,232.6 538.4,238.7 540.5,244.2 538.4,247.6 533,248.3 526.1,246.2"/>
<path d="M501.5,259.9 505.6,261.3 509.7,262 513.8,259.9 518.6,258.5 520.7,255.1 517.9,251.7 514.5,251"/>
<path d="M520.7,255.1 527.5,253.1 534.3,252.4 538.4,250.3 538.4,247.6"/>
<path d="M520.7,255.1 519.3,259.2 523.4,262.6 530.2,262 535.7,258.5 538.4,253.8 538.4,250.3"/>
<path d="M513.8,259.9 514.5,262.6 519.3,263.3 523.4,262.6"/>
<path d="M514.5,262.6 516.6,266.1 522,267.4 527.5,270.2 528.9,274.3 530.9,278.4"/>
<path d="M519.3,263.3 522,267.4"/>
<path d="M530.2,262 534.3,263.3 538.4,267.4 539.8,271.5 538.4,274.3 535.7,277 533,276.3 530.9,278.4 533,282.5 535.7,284.5"/>
<path d="M535.7,258.5 534.3,263.3"/>
<path d="M538.4,253.8 543.9,252.4 549.4,253.8 553.5,257.9 554.8,264"/>
<path d="M538.4,267.4 545.3,268.1 550.7,266.7 554.2,267.4"/>
<path d="M538.4,274.3 543.9,273.6 549.4,274.3 548,278.4"/>
<path d="M528.9,274.3 533,276.3"/>
<path d="M535.7,277 538.4,278.4 542.5,277 543.9,273.6"/>
<path d="M551.4,210.3 550.8,215 552.1,221.9 557.6,225.3 561,230.8 563.1,233.5 560.3,236.2 561,238.3"/>
<path d="M537.8,215.3 544.6,213.7 550.8,215"/>
<path d="M532.3,223.2 540.5,222.6 547.3,224.6 552.1,222.1"/>
<path d="M535,230.8 539.8,231.4 544.6,227.3 547.3,224.6"/>
<path d="M539.8,231.4 538.5,236.9 539.1,239.6 547.3,239 555.5,239.6 561,238.3"/>
<path d="M539.1,239.6 537.8,245.1 535,250.6 533.7,254.7 540.5,254 547.3,252.6 550.1,254.7 554.2,260.2"/>
<path d="M561,238.3 566.5,237.6 570.6,243.8 577.4,246.5 582.9,249.2 584.3,254 581.5,257.4 577.4,260.2"/>
<path d="M549.4,254 553.5,259.5 552.8,265.6"/>
<path d="M607.5,260.2 603.4,254.7 602.7,247.9 607.5,243.8 613,241 619.8,241.7 626.6,243.8 633.5,242.4 640.3,241 641.7,236.9 641.7,232.8 648.5,230.8 660,229.4"/>
<path d="M588.2,273.2 593.6,273.7 599,276.4 603.3,278 607.6,276.9"/>
<path d="M537,165.1 534.3,166.5 527.4,167.9 520.6,173.3 516.5,178.8 512.4,185.6 509.6,193.8 507.6,200 506.9,205.1 506.2,213.3"/>
<path d="M537,165.1 538.4,170.6 540.4,176.1 541.1,180.2"/>
<path d="M537,165.1 541.1,167.2 546.6,164.4 550.7,161 553.4,162.4 554.1,165.1 554.8,172 556.8,180.2 557.5,188.4 559.6,196.6 560.9,200 560.2,195.5 557.5,199.6 552,205.1"/>
<path d="M548.7,280.5 550.7,282.6 549.4,283.9"/>
<path d="M590.3,276.9 594.7,279.1 596.8,283.4 597.3,288.8 599,293.1"/>
<path d="M594.7,279.1 599,280.2 603.3,279.6 607.6,281.2"/>
<path d="M596.8,283.4 601.1,286.6 605.4,285.6 607.6,287.7 610.3,286.6"/>
<path d="M744.7,345.1 744,352 745.4,357.4 747.4,361.5 746.7,365.6 747.4,373.8"/>
<path d="M746.1,334.2 748.8,339.6 751.5,341 755.6,338.3 759.7,340.3 762.5,336.9 766.6,338.3"/>
<path d="M759.7,340.3 762.5,345.1 765.9,350.6 769.3,356.1 770,360.2 772,364.3 769.3,367 766.6,371.1"/>
<path d="M751.5,341 752.9,346.5 751.5,350.6 757,349.2 761.1,353.3 763.8,358.8 766.6,361.5 770,360.2"/>
<path d="M766.6,361.5 761.1,360.8 757,362.2 758.4,368.4"/>
<path d="M744.7,345.1 742,341 744.7,336.9 746.1,334.2"/>
<path d="M729.6,339 726.9,334.2 722.8,332.8 718.7,329.4 716.7,331.4 717.3,334.2"/>
<path d="M690,302.7 692.7,308.2 695.5,313.7 698.2,317.8"/>
<path d="M713.5,250 709.4,254.1 703.9,257.6 701.2,262.3 695.7,264.4 694.3,270.5 690.9,274"/>
<path d="M623.9,276 628,274.6 627.3,267.8 631.4,264.4 636.9,264.4 642.4,269.2 647.9,271.2 653.3,271.2 656.1,274.6 658.8,278.8 664.3,280.1 669.7,275.3 676.6,274 683.4,273.3 690.9,274 684.8,280.1 680,284.2 677.9,287.6 680,289.7 684.8,295.2 688.9,299.3 690.2,306.1 694.3,311.6 695,312.5 705,318.8 715,323.8"/>
<path d="M628,274.6 631.4,276 636.9,275.3 641,278.8 646.5,282.9 653.3,287.6 658.8,290.4 660.2,291.1"/>
<path d="M622.6,292.4 627.3,289.7 634.2,289 641,292.4 643.8,296.5 644.4,297.9 650.6,293.8 656.1,291.1 660.2,291.1 665.6,289 669.7,291.1 673.8,288.3 679.3,289 680,289.7"/>
<path d="M644.4,297.9 641,302 641,307.5 641.6,311 643,314.4 647.1,319.2 645.7,324.6 644.3,327.4"/>
<path d="M660.2,291.1 660.2,285.6 664.9,282.2 664.3,280.1"/>
<path d="M664.9,282.2 672.5,282.9 677.9,284.2 680,287"/>
<path d="M643,315.1 651.2,315.8 658,311 660.2,311.6 664.3,306.1 668.4,302 671.1,296.5 672.5,292.4 680,289.7"/>
<path d="M684.8,295.2 680.7,297.9 677.9,300.6 679.3,306.1 682,311.6 679.9,306.9 675.8,311 673.1,316.4 667.6,321.9 666.2,326 668.9,330.1 666.2,335.6"/>
<path d="M695,312.5 700,317.5 710,322.5 720,325"/>
<path d="M273.8,367.5 272.5,376.2 277.5,380 285,382.5 287.5,390 286.2,396.2 295,398.8 296.2,392.5 302.5,388.8 307.5,390 310,396.2 317.5,395 325,395 332.5,393.8 335,397.5"/>
<path d="M305,377.5 307.5,383.8 307.5,390"/>
<path d="M315,383.8 316.2,394.5"/>
<path d="M322.5,386.2 322.5,394.5"/>
<path d="M251.2,400 258.8,398.8 266.2,402.5 272.5,407.5 280,406.2 282.5,397.5 286.2,396.2"/>
<path d="M266.2,402.5 258.8,410 252.5,413.8"/>
<path d="M280,406.2 277.5,412.5 271.2,415 270,422.5 275,427.5 282.5,430 283.8,435 282.5,445 281.2,451.2 283.8,460 286.2,465"/>
<path d="M283.8,435 292.5,428.8 297.5,436.2 305,440 310,445 313.8,451.2 312.5,457.5 305,456.2 300,462.5 292.5,463.8 286.2,465"/>
<path d="M312.5,457.5 315,465 322.5,467.5 323.8,475 320,478.8 312.5,480 315,476.2 307.5,470 300,462.5"/>
<path d="M286.2,465.2 282.5,474 281.2,489 278.8,504 276.2,519 273.8,534 272.5,546.5 273.8,556.5 277.5,564 282.5,565.2"/>
<path d="M323.8,475.2 320,484 316.2,489 313.8,497.8"/>
<path d="M316.2,489 325,492.8 328.8,496"/>
<path d="M322.8,473.3 317.8,482.3 314.5,490.6"/>
<path d="M83.8,163.8 83.8,212.5 96.2,220 105,230 112.5,238.8 120,246.2"/>
<path d="M133.8,250 150,250"/>
<path d="M263.7,268.1 270.2,264.5 277.4,260.9 284.6,258.5 286.4,259.1 287,264.5 288.8,266.3"/>
<path d="M147.5,305.5 160,308.8 175,310 180,312.5 185,317.5"/>
<path d="M217.5,360 220,355 226.2,355"/>
<path d="M230,358 233.8,363 240,368.8"/>
<path d="M240,358 245,365 250,366.2"/>
<path d="M243.8,373.8 250,372.5"/>
<path d="M252.5,380 253.8,376.2"/>
<path d="M863.2,409 863.2,424.5"/>
<path d="M428.2,364.8 433.7,364.8 436.1,367.6 440.5,368.7 448,368"/>
<path d="M437.8,375.5 440.5,373.5 443.5,374.8 444.6,378.2 443.2,381.7"/>
<path d="M444.6,378.2 449.4,379.3"/>
<path d="M427.5,361.6 433.7,361.2 439.8,359.1"/>
</g>
</g>
<g>
<ellipse cx="163" cy="206" rx="64" ry="32.8" fill="#002060" stroke="#001a50" stroke-width="0.8"/>
<text x="103.03" y="214.89999999999998" font-size="22.15" textLength="60.58" lengthAdjust="spacingAndGlyphs" fill="#fff">AECO:</text>
<text x="169.51" y="214.89999999999998" font-size="22.15" textLength="42.58" lengthAdjust="spacingAndGlyphs" fill="#fff">$1.6</text>
<ellipse cx="195.6" cy="271.3" rx="64.4" ry="27.5" fill="#002060" stroke="#001a50" stroke-width="0.8"/>
<text x="138.58" y="279.7" font-size="21.73" textLength="67.21" lengthAdjust="spacingAndGlyphs" fill="#fff">Henry:</text>
<text x="210.97" y="279.7" font-size="21.73" textLength="41.21" lengthAdjust="spacingAndGlyphs" fill="#fff">$3.7</text>
<ellipse cx="236.6" cy="317.2" rx="56.6" ry="17.8" fill="#002060" stroke="#001a50" stroke-width="0.8"/>
<text x="188.73" y="323.5" font-size="16.97" textLength="50.38" lengthAdjust="spacingAndGlyphs" fill="#fff">Waha:</text>
<text x="245.03" y="323.5" font-size="16.97" textLength="41.88" lengthAdjust="spacingAndGlyphs" fill="#fff">-$0.3</text>
<ellipse cx="439.4" cy="195" rx="58" ry="43.7" fill="#002060" stroke="#001a50" stroke-width="0.8"/>
<text x="382.76" y="202.7" font-size="23.29" textLength="46.82" lengthAdjust="spacingAndGlyphs" fill="#fff">TTF:</text>
<text x="434.18" y="202.7" font-size="23.29" textLength="60.24" lengthAdjust="spacingAndGlyphs" fill="#fff">$10.5</text>
<ellipse cx="633.5" cy="207.1" rx="71.5" ry="19.6" fill="#002060" stroke="#001a50" stroke-width="0.8"/>
<text x="573.23" y="214.0" font-size="18.84" textLength="74.77" lengthAdjust="spacingAndGlyphs" fill="#fff">SPIMEX:</text>
<text x="652.25" y="214.0" font-size="18.84" textLength="37.36" lengthAdjust="spacingAndGlyphs" fill="#fff">$1.4</text>
<ellipse cx="742.3" cy="301.5" rx="44" ry="31" fill="#002060" stroke="#001a50" stroke-width="0.8"/>
<text x="717.16" y="294.7" font-size="21.73" textLength="51.05" lengthAdjust="spacingAndGlyphs" fill="#fff">CHN:</text>
<text x="715.21" y="322.7" font-size="21.73" textLength="54.83" lengthAdjust="spacingAndGlyphs" fill="#fff">$11.3</text>
<ellipse cx="673.5" cy="416.5" rx="57.3" ry="36" fill="#002060" stroke="#001a50" stroke-width="0.8"/>
<text x="649.65" y="408.5" font-size="20.91" textLength="48.61" lengthAdjust="spacingAndGlyphs" fill="#fff">GIXI:</text>
<text x="646.46" y="437.0" font-size="21.32" textLength="54.41" lengthAdjust="spacingAndGlyphs" fill="#fff">$11.2</text>
<ellipse cx="931.1" cy="282.5" rx="66.9" ry="30.5" fill="#002060" stroke="#001a50" stroke-width="0.8"/>
<text x="873.93" y="290.7" font-size="22.15" textLength="51.08" lengthAdjust="spacingAndGlyphs" fill="#fff">JKM:</text>
<text x="928.46" y="290.7" font-size="22.15" textLength="54.92" lengthAdjust="spacingAndGlyphs" fill="#fff">$11.2</text>
<ellipse cx="894.6" cy="361.6" rx="67.1" ry="27.1" fill="#002060" stroke="#001a50" stroke-width="0.8"/>
<text x="842.78" y="357.2" font-size="18.01" textLength="101.15" lengthAdjust="spacingAndGlyphs" fill="#fff">Oil-indexed:</text>
<text x="861.79" y="381.0" font-size="18.01" textLength="66.21" lengthAdjust="spacingAndGlyphs" fill="#fff">~$10-11</text>
<ellipse cx="843.1" cy="496.5" rx="58.9" ry="26.5" fill="#002060" stroke="#001a50" stroke-width="0.8"/>
<text x="818.73" y="489.7" font-size="21.11" textLength="51.93" lengthAdjust="spacingAndGlyphs" fill="#fff">WAL:</text>
<text x="831.46" y="518.2" font-size="21.32" textLength="24.87" lengthAdjust="spacingAndGlyphs" fill="#fff">$9</text>
</g>
</svg>
</body></html>
